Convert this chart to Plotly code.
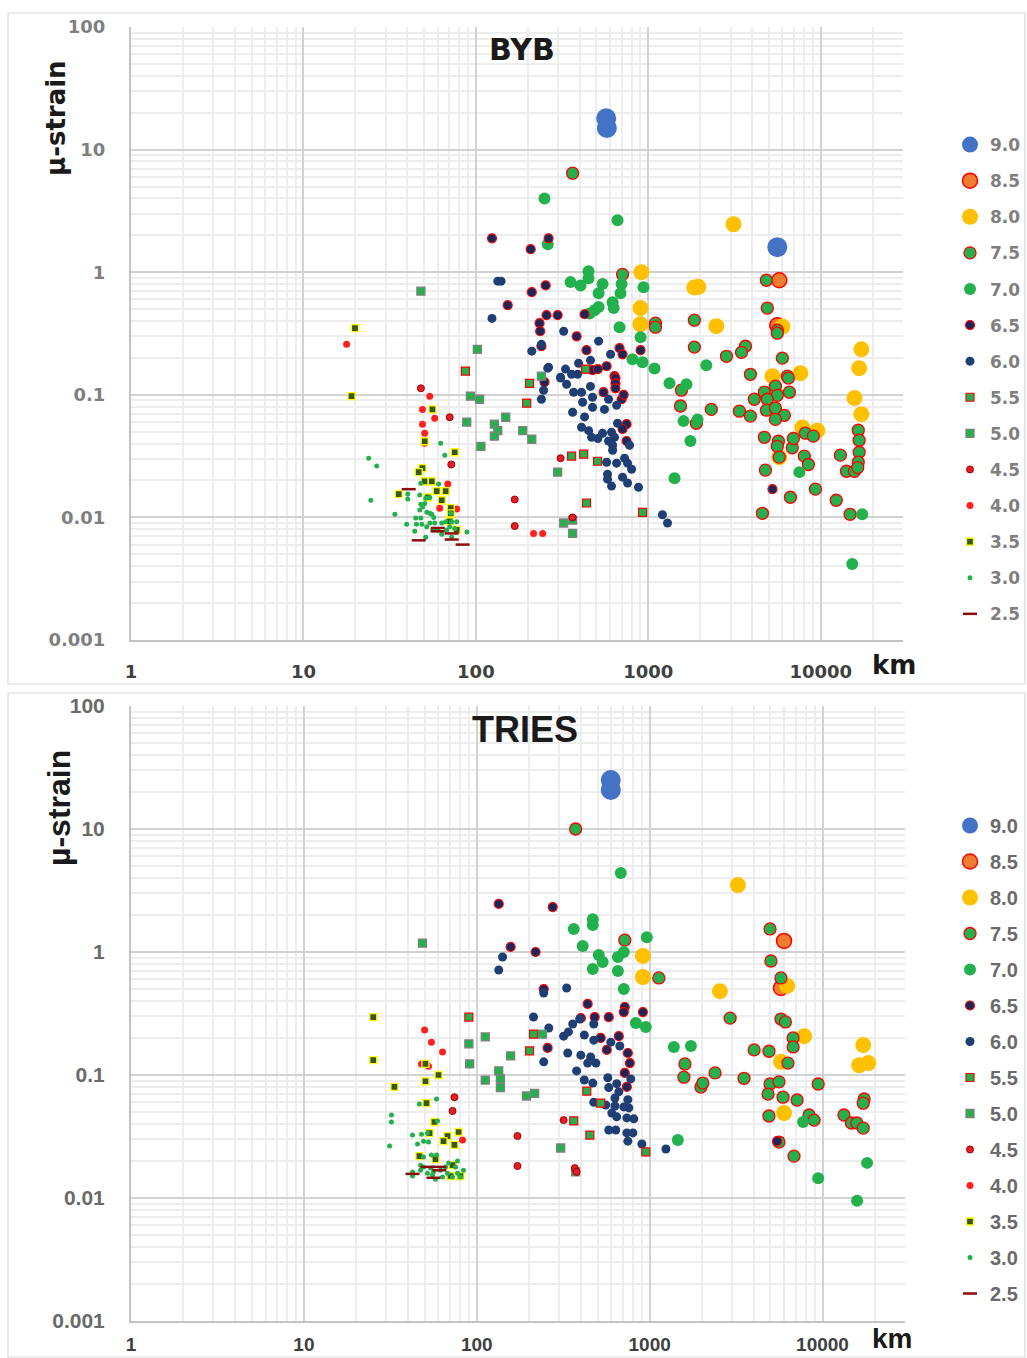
import plotly.graph_objects as go

# ---------------- legend labels (magnitude classes) ----------------
MAG_LABELS = ["9.0", "8.5", "8.0", "7.5", "7.0", "6.5", "6.0", "5.5", "5.0", "4.5", "4.0", "3.5", "3.0", "2.5"]
X_TICK_TEXT = ["1", "10", "100", "1000", "10000"]
Y_TICK_TEXT = ["0.001", "0.01", "0.1", "1", "10", "100"]

# ---------------- BYB panel ----------------
BYB_M90_KM = [570, 575, 5600]
BYB_M90_STRAIN = [18.0, 15.0, 1.6]
BYB_M85_KM = [5750, 5600]
BYB_M85_STRAIN = [0.86, 0.37]
BYB_M80_KM = [912, 1850, 1950, 900, 900, 2480, 3120, 5990, 17200, 16700, 5250, 7620, 15700, 17200, 7820, 9550, 5460, 5750]
BYB_M80_STRAIN = [1.0, 0.75, 0.76, 0.51, 0.376, 0.363, 2.46, 0.36, 0.235, 0.165, 0.142, 0.15, 0.094, 0.0695, 0.054, 0.051, 0.103, 0.031]
BYB_M75_KM = [364, 709, 4840, 4900, 1100, 1100, 1850, 5600, 5600, 1850, 3660, 3470, 2840, 5990, 3910, 6400, 1557, 1537,
              2320, 1900, 3375, 3910, 4710, 4120, 5460, 5600, 6580, 6490, 4900, 4840, 5460, 6150, 5460, 4710, 5680, 5600,
              6840, 6940, 8140, 9060, 5750, 8030, 8480, 4780, 6670, 9310, 12300, 4590, 14800, 13000, 14100, 15700, 16500,
              16700, 16700, 16500, 16400]
BYB_M75_STRAIN = [6.42, 0.96, 0.86, 0.51, 0.384, 0.356, 0.406, 0.336, 0.318, 0.245, 0.249, 0.222, 0.206, 0.199, 0.147, 0.142,
                  0.109, 0.081, 0.076, 0.0586, 0.0735, 0.067, 0.105, 0.092, 0.1175, 0.099, 0.105, 0.137, 0.092, 0.0749,
                  0.078, 0.068, 0.063, 0.045, 0.0418, 0.038, 0.037, 0.044, 0.0486, 0.046, 0.031, 0.0316, 0.027, 0.0243,
                  0.0146, 0.017, 0.0138, 0.0108, 0.0106, 0.0322, 0.0238, 0.0238, 0.0514, 0.0426, 0.034, 0.0282, 0.0255]
BYB_M70_KM = [250, 663, 261, 450, 450, 354, 405, 543, 515, 700, 690, 938, 621, 630, 457, 488, 515, 681, 902, 810, 926, 1086,
              2170, 1327, 1665, 1600, 1930, 1755, 1419, 7520, 17400, 15240]
BYB_M70_STRAIN = [4.0, 2.65, 1.69, 1.02, 0.893, 0.83, 0.78, 0.80, 0.674, 0.80, 0.674, 0.755, 0.569, 0.51, 0.46, 0.49, 0.52,
                  0.356, 0.295, 0.195, 0.184, 0.164, 0.174, 0.124, 0.122, 0.061, 0.063, 0.042, 0.0209, 0.0234, 0.0106, 0.00416]
BYB_M65_KM = [124, 153, 208, 264, 254, 211, 257, 298, 427, 234, 236, 384, 240, 438, 681, 709, 902, 573, 475, 510, 637, 250,
              645, 645, 645, 550, 700, 720, 748, 709, 748, 5250]
BYB_M65_STRAIN = [1.89, 0.538, 1.54, 1.89, 0.78, 0.687, 0.446, 0.446, 0.454, 0.384, 0.33, 0.30, 0.249, 0.231, 0.24, 0.214,
                  0.231, 0.171, 0.159, 0.162, 0.142, 0.127, 0.137, 0.124, 0.113, 0.105, 0.092, 0.10, 0.0576, 0.0526, 0.042, 0.017]
BYB_M60_KM = [134, 140, 124, 323, 211, 240, 515, 462, 604, 394, 261, 331, 310, 359, 389, 264, 310, 336, 462, 247, 369, 410,
              475, 240, 416, 475, 588, 557, 655, 364, 427, 410, 451, 469, 510, 543, 612, 637, 588, 621, 663, 778, 621, 573,
              655, 728, 758, 800, 580, 580, 709, 758, 612, 877, 1208, 1292]
BYB_M60_STRAIN = [0.845, 0.845, 0.42, 0.33, 0.227, 0.258, 0.274, 0.191, 0.214, 0.181, 0.165, 0.162, 0.139, 0.147, 0.147,
                  0.168, 0.137, 0.122, 0.117, 0.109, 0.105, 0.105, 0.0955, 0.092, 0.087, 0.079, 0.092, 0.076, 0.082, 0.072,
                  0.066, 0.0544, 0.051, 0.045, 0.044, 0.0486, 0.0496, 0.045, 0.042, 0.0388, 0.0586, 0.0388, 0.0353, 0.0282,
                  0.0277, 0.0304, 0.0277, 0.0247, 0.0225, 0.0205, 0.0213, 0.0191, 0.018, 0.0176, 0.0105, 0.009]
BYB_M55_KM = [87, 205, 197, 433, 359, 422, 508, 438, 926]
BYB_M55_STRAIN = [0.156, 0.124, 0.0855, 0.162, 0.0316, 0.0328, 0.0287, 0.0131, 0.011]
BYB_M50_KM = [48, 102, 93, 105, 88.5, 128, 134, 128, 149, 187, 211, 107, 240, 298, 323, 364, 364]
BYB_M50_STRAIN = [0.70, 0.235, 0.0975, 0.092, 0.0598, 0.0576, 0.051, 0.046, 0.0656, 0.051, 0.0434, 0.038, 0.142, 0.0234,
                  0.009, 0.0095, 0.0074]
BYB_M45_KM = [48, 70.5, 72, 168, 168, 364, 310]
BYB_M45_STRAIN = [0.113, 0.0656, 0.027, 0.014, 0.0085, 0.01, 0.0304]
BYB_M40_KM = [17.8, 54, 49, 57.7, 49, 50.5, 50.5, 68.7, 61.7, 77.4, 216, 244]
BYB_M40_STRAIN = [0.259, 0.0975, 0.076, 0.0644, 0.0576, 0.0486, 0.0403, 0.0187, 0.0119, 0.0117, 0.0074, 0.0074]
BYB_M35_KM = [19.9, 19, 56, 50.5, 75.4, 49, 46.6, 50.5, 55.5, 59.3, 66.8, 35.7, 52.6, 63.4, 71.5, 71.5, 70.5, 77.4]
BYB_M35_STRAIN = [0.35, 0.0975, 0.076, 0.0418, 0.034, 0.0252, 0.0234, 0.0197, 0.0197, 0.0164, 0.0164, 0.0155, 0.0146,
                  0.0138, 0.0119, 0.0108, 0.0093, 0.0079]
BYB_M30_KM = [23.9, 26.6, 24.6, 33.9, 39.7, 40.3, 40.3, 62.5, 66, 47.9, 60.8, 47.3, 51.2, 54.1, 47.9, 49.2, 50.5, 47.3, 55.5,
              57, 44.8, 47.9, 45.2, 48.6, 44.2, 51.2, 51.9, 54.1, 56.3, 57.7, 60, 63.4, 63.4, 66.8, 67.7, 70.5, 72.4, 72.4,
              75.4, 77.4, 88.8, 71.5, 54.1, 52]
BYB_M30_STRAIN = [0.0304, 0.0262, 0.0138, 0.0106, 0.0088, 0.0155, 0.0141, 0.0403, 0.0321, 0.019, 0.0187, 0.0152, 0.0143,
                  0.0145, 0.0128, 0.0122, 0.013, 0.0115, 0.0106, 0.01, 0.0099, 0.0099, 0.0088, 0.0088, 0.0077, 0.0069,
                  0.0084, 0.009, 0.0079, 0.009, 0.0079, 0.009, 0.0073, 0.0092, 0.0079, 0.0084, 0.0092, 0.0069, 0.0081,
                  0.0092, 0.0076, 0.0108, 0.0108, 0.011]
BYB_M25_KM = [40.8, 46.6, 60.1, 60, 72.4, 72.4, 83.8]
BYB_M25_STRAIN = [0.017, 0.0065, 0.0082, 0.0077, 0.0074, 0.0066, 0.006]

# ---------------- TRIES panel ----------------
TRI_M90_KM = [596, 596]
TRI_M90_STRAIN = [25, 20.8]
TRI_M85_KM = [5990, 5750]
TRI_M85_STRAIN = [1.23, 0.51]
TRI_M80_KM = [3240, 914, 914, 2550, 6240, 7820, 5750, 17200, 16300, 18400, 5990]
TRI_M80_STRAIN = [3.5, 0.93, 0.626, 0.48, 0.53, 0.207, 0.128, 0.175, 0.12, 0.125, 0.049]
TRI_M75_KM = [373, 718, 4970, 5030, 1130, 5750, 2920, 5750, 6100, 6760, 6760, 4020, 4900, 6310, 1600, 2390, 1578, 3515,
              4970, 5600, 9440, 1980, 2030, 4840, 5910, 7130, 4900, 8360, 8940, 13300, 14700, 15800, 17200, 17400, 17200,
              5600, 6840]
TRI_M75_STRAIN = [10, 1.25, 1.54, 0.845, 0.615, 0.615, 0.29, 0.285, 0.27, 0.2, 0.169, 0.16, 0.156, 0.125, 0.123, 0.104,
                  0.096, 0.094, 0.0845, 0.088, 0.0845, 0.0798, 0.086, 0.070, 0.066, 0.0626, 0.0464, 0.0473, 0.043, 0.0473,
                  0.0407, 0.0407, 0.037, 0.0638, 0.059, 0.0285, 0.0219]
TRI_M70_KM = [681, 469, 469, 364, 963, 410, 709, 508, 655, 535, 469, 655, 709, 832, 950, 1380, 1733, 1456, 7720, 18100,
              9440, 15850]
TRI_M70_STRAIN = [4.39, 1.85, 1.66, 1.54, 1.32, 1.12, 1.0, 0.945, 0.91, 0.83, 0.728, 0.70, 0.50, 0.265, 0.246, 0.169,
                  0.172, 0.0296, 0.0415, 0.0193, 0.0145, 0.0095]
TRI_M65_KM = [134, 275, 157, 219, 244, 438, 718, 709, 914, 400, 481, 580, 257, 521, 663, 565, 748, 768, 718, 738, 5460]
TRI_M65_STRAIN = [2.46, 2.32, 1.1, 1.0, 0.5, 0.378, 0.357, 0.325, 0.325, 0.29, 0.296, 0.296, 0.166, 0.2, 0.207, 0.16,
                  0.151, 0.125, 0.104, 0.08, 0.029]
TRI_M60_KM = [141, 134, 244, 331, 213, 261, 244, 378, 318, 339, 359, 394, 475, 419, 475, 596, 672, 336, 400, 456, 489, 438,
              419, 469, 573, 645, 778, 580, 663, 630, 748, 630, 709, 758, 557, 604, 645, 738, 810, 580, 637, 738, 800, 748,
              902, 1242, 475]
TRI_M60_STRAIN = [0.91, 0.714, 0.464, 0.51, 0.296, 0.241, 0.128, 0.108, 0.207, 0.224, 0.26, 0.285, 0.26, 0.211, 0.192,
                  0.185, 0.172, 0.151, 0.145, 0.14, 0.125, 0.125, 0.091, 0.086, 0.095, 0.085, 0.093, 0.079, 0.073, 0.065,
                  0.063, 0.056, 0.055, 0.054, 0.057, 0.049, 0.0457, 0.0448, 0.044, 0.0357, 0.0357, 0.0338, 0.0338, 0.029,
                  0.0275, 0.025, 0.060]
TRI_M55_KM = [90, 213, 202, 433, 521, 364, 451, 950]
TRI_M55_STRAIN = [0.296, 0.215, 0.157, 0.074, 0.059, 0.0423, 0.0325, 0.0237]
TRI_M50_KM = [48.5, 90, 91, 112, 157, 240, 134, 112, 137, 137, 194, 216, 306, 373]
TRI_M50_STRAIN = [1.18, 0.179, 0.123, 0.204, 0.143, 0.215, 0.108, 0.091, 0.093, 0.079, 0.0675, 0.071, 0.0255, 0.0163]
TRI_M45_KM = [74.3, 72.4, 172, 172, 318, 369, 378]
TRI_M45_STRAIN = [0.066, 0.051, 0.0319, 0.0182, 0.043, 0.0175, 0.0163]
TRI_M40_KM = [49.9, 54.7, 63.4, 47.9, 52.6, 82.7]
TRI_M40_STRAIN = [0.232, 0.185, 0.154, 0.123, 0.118, 0.0296]
TRI_M35_KM = [25.2, 25.2, 33.4, 50.5, 60.1, 50.5, 51.2, 56.9, 53.3, 78.5, 67.7, 64.2, 74.3, 46.6, 57.7, 70.5, 80.5, 72.4]
TRI_M35_STRAIN = [0.296, 0.132, 0.08, 0.123, 0.1, 0.089, 0.059, 0.0415, 0.0337, 0.0344, 0.0319, 0.029, 0.027, 0.0219,
                  0.0207, 0.0151, 0.0151, 0.0185]
TRI_M30_KM = [32.1, 32.1, 31.3, 46.6, 58.5, 59.3, 42.5, 47.9, 51.9, 49.2, 45.4, 52.6, 49.2, 54.7, 58.5, 77.4, 42.5, 42.5,
              47.3, 47.3, 51.9, 54.1, 55.5, 57.7, 61.7, 66, 67.7, 68.7, 75.4, 77.4, 80.5, 83.8, 72.4, 63.4, 56.2, 49.2]
TRI_M30_STRAIN = [0.0473, 0.0415, 0.0265, 0.058, 0.0638, 0.0423, 0.0325, 0.033, 0.0338, 0.029, 0.0275, 0.0285, 0.0215,
                  0.0224, 0.0224, 0.02, 0.0163, 0.0151, 0.0185, 0.0168, 0.0159, 0.0175, 0.0154, 0.0142, 0.0168, 0.0179,
                  0.0159, 0.0193, 0.0179, 0.0159, 0.0148, 0.0168, 0.0148, 0.0148, 0.0163, 0.0179]
TRI_M25_KM = [42.5, 51.9, 60.8, 60.8, 56.2]
TRI_M25_STRAIN = [0.0157, 0.0179, 0.0179, 0.0168, 0.0146]

BYB_SERIES = [
    (BYB_M90_KM, BYB_M90_STRAIN), (BYB_M85_KM, BYB_M85_STRAIN), (BYB_M80_KM, BYB_M80_STRAIN),
    (BYB_M75_KM, BYB_M75_STRAIN), (BYB_M70_KM, BYB_M70_STRAIN), (BYB_M65_KM, BYB_M65_STRAIN),
    (BYB_M60_KM, BYB_M60_STRAIN), (BYB_M55_KM, BYB_M55_STRAIN), (BYB_M50_KM, BYB_M50_STRAIN),
    (BYB_M45_KM, BYB_M45_STRAIN), (BYB_M40_KM, BYB_M40_STRAIN), (BYB_M35_KM, BYB_M35_STRAIN),
    (BYB_M30_KM, BYB_M30_STRAIN), (BYB_M25_KM, BYB_M25_STRAIN),
]
TRI_SERIES = [
    (TRI_M90_KM, TRI_M90_STRAIN), (TRI_M85_KM, TRI_M85_STRAIN), (TRI_M80_KM, TRI_M80_STRAIN),
    (TRI_M75_KM, TRI_M75_STRAIN), (TRI_M70_KM, TRI_M70_STRAIN), (TRI_M65_KM, TRI_M65_STRAIN),
    (TRI_M60_KM, TRI_M60_STRAIN), (TRI_M55_KM, TRI_M55_STRAIN), (TRI_M50_KM, TRI_M50_STRAIN),
    (TRI_M45_KM, TRI_M45_STRAIN), (TRI_M40_KM, TRI_M40_STRAIN), (TRI_M35_KM, TRI_M35_STRAIN),
    (TRI_M30_KM, TRI_M30_STRAIN), (TRI_M25_KM, TRI_M25_STRAIN),
]

# ---------------- marker styles per class ----------------
GREEN = "#22B14C"
STYLES = [
    dict(symbol="circle", size=20, color="#4472C4", line=dict(width=0)),
    dict(symbol="circle", size=15, color="#ED7D31", line=dict(width=1.5, color="#FF0000")),
    dict(symbol="circle", size=16, color="#FFC000", line=dict(width=0)),
    dict(symbol="circle", size=12, color=GREEN, line=dict(width=1.3, color="#FF0000")),
    dict(symbol="circle", size=12, color=GREEN, line=dict(width=0)),
    dict(symbol="circle", size=9, color="#1B2758", line=dict(width=1.2, color="#FF0000")),
    dict(symbol="circle", size=9, color="#1F3E74", line=dict(width=0)),
    dict(symbol="square", size=8, color=GREEN, line=dict(width=1.2, color="#FF0000")),
    dict(symbol="square", size=8, color=GREEN, line=dict(width=1.3, color="#808080")),
    dict(symbol="circle", size=7, color="#E41E26", line=dict(width=1, color="#A00000")),
    dict(symbol="circle", size=7, color="#FF2020", line=dict(width=0)),
    dict(symbol="square", size=7, color="#375623", line=dict(width=1.3, color="#FFFF00")),
    dict(symbol="circle", size=5, color=GREEN, line=dict(width=0)),
    dict(symbol="line-ew", size=10, color="#8B0A0A", line=dict(width=2.5, color="#8B0A0A")),
]

W, H = 1027, 1358


def px_x(p):
    return p / W


def px_y(p):
    return 1 - p / H


fig = go.Figure()

for panel, series, xa, ya, leg in [("byb", BYB_SERIES, "x", "y", "legend"), ("tri", TRI_SERIES, "x2", "y2", "legend2")]:
    for label, (xs, ys), st in zip(MAG_LABELS, series, STYLES):
        fig.add_trace(go.Scatter(
            x=xs, y=ys, mode="markers", name=label,
            xaxis=xa, yaxis=ya, legend=leg, legendgroup=panel + label,
            marker=dict(symbol=st["symbol"], size=st["size"], color=st["color"], line=st["line"]),
            hovertemplate="%{x} km, %{y} µ-strain<extra>" + label + "</extra>",
        ))

minor_vals = [m * 10 ** e for e in range(-3, 5) for m in range(2, 10)]

TOP_FONT = "DejaVu Sans"
BOT_FONT = "Liberation Sans"


def xaxis_cfg(domain, y_anchor, family, size, standoff):
    return dict(
        type="log", range=[0, 4.4771], domain=domain, anchor=y_anchor,
        tickmode="array", tickvals=[1, 10, 100, 1000, 10000], ticktext=X_TICK_TEXT,
        tickfont=dict(family=family, size=size, color="#404040", weight="bold"),
        ticks="", ticklabelstandoff=standoff,
        showgrid=True, gridcolor="#D2D2D2", gridwidth=1.5,
        minor=dict(tickmode="array", tickvals=minor_vals, showgrid=True, gridcolor="#EDEDED", gridwidth=2, ticks=""),
        showline=True, linecolor="#C4C4C4", linewidth=2, zeroline=False,
    )


def yaxis_cfg(domain, x_anchor, family, size, color):
    return dict(
        type="log", range=[-3, 2], domain=domain, anchor=x_anchor,
        tickmode="array", tickvals=[0.001, 0.01, 0.1, 1, 10, 100], ticktext=Y_TICK_TEXT,
        tickfont=dict(family=family, size=size, color=color, weight="bold"),
        ticks="", ticklabelstandoff=20,
        showgrid=True, gridcolor="#D2D2D2", gridwidth=1.5,
        minor=dict(tickmode="array", tickvals=minor_vals, showgrid=True, gridcolor="#EDEDED", gridwidth=2, ticks=""),
        showline=True, linecolor="#C4C4C4", linewidth=2, zeroline=False,
    )


def label(text, x, y, family, size, angle=0):
    return dict(text=text, x=px_x(x), y=px_y(y), xref="paper", yref="paper", showarrow=False,
                xanchor="center", yanchor="middle", textangle=angle,
                font=dict(family=family, size=size, color="#1A1A1A", weight="bold"))


fig.update_layout(
    width=W, height=H, margin=dict(l=0, r=0, t=0, b=0, autoexpand=False),
    paper_bgcolor="white", plot_bgcolor="white",
    xaxis=xaxis_cfg([px_x(131), px_x(903)], "y", TOP_FONT, 18, 14),
    yaxis=yaxis_cfg([px_y(640), px_y(27)], "x", TOP_FONT, 18, "#7F7F7F"),
    xaxis2=xaxis_cfg([px_x(131), px_x(905)], "y2", BOT_FONT, 19, 5),
    yaxis2=yaxis_cfg([px_y(1321), px_y(706)], "x2", BOT_FONT, 21, "#6A6A6A"),
    legend=dict(x=px_x(950), xanchor="left", y=px_y(127), yanchor="top",
                font=dict(family=TOP_FONT, size=17, color="#7F7F7F", weight="bold"),
                tracegroupgap=11, itemsizing="trace", bgcolor="rgba(0,0,0,0)"),
    legend2=dict(x=px_x(950), xanchor="left", y=px_y(806), yanchor="top",
                 font=dict(family=BOT_FONT, size=20, color="#6A6A6A", weight="bold"),
                 tracegroupgap=7, itemsizing="trace", bgcolor="rgba(0,0,0,0)"),
    showlegend=True,
    shapes=[
        dict(type="rect", xref="paper", yref="paper", x0=px_x(8), x1=px_x(1025), y0=px_y(684), y1=px_y(13),
             line=dict(color="#D9D9D9", width=1.2), layer="below"),
        dict(type="rect", xref="paper", yref="paper", x0=px_x(8), x1=px_x(1025), y0=px_y(1357), y1=px_y(693),
             line=dict(color="#D9D9D9", width=1.2), layer="below"),
    ],
    annotations=[
        label("BYB", 522, 50, TOP_FONT, 30),
        label("TRIES", 525, 729, BOT_FONT, 36),
        label("µ-strain", 56, 118, TOP_FONT, 26, -90),
        label("µ-strain", 59, 808, BOT_FONT, 32, -90),
        label("km", 894, 665, TOP_FONT, 26),
        label("km", 892, 1338, BOT_FONT, 28),
    ],
)

fig.write_html("out.html")
